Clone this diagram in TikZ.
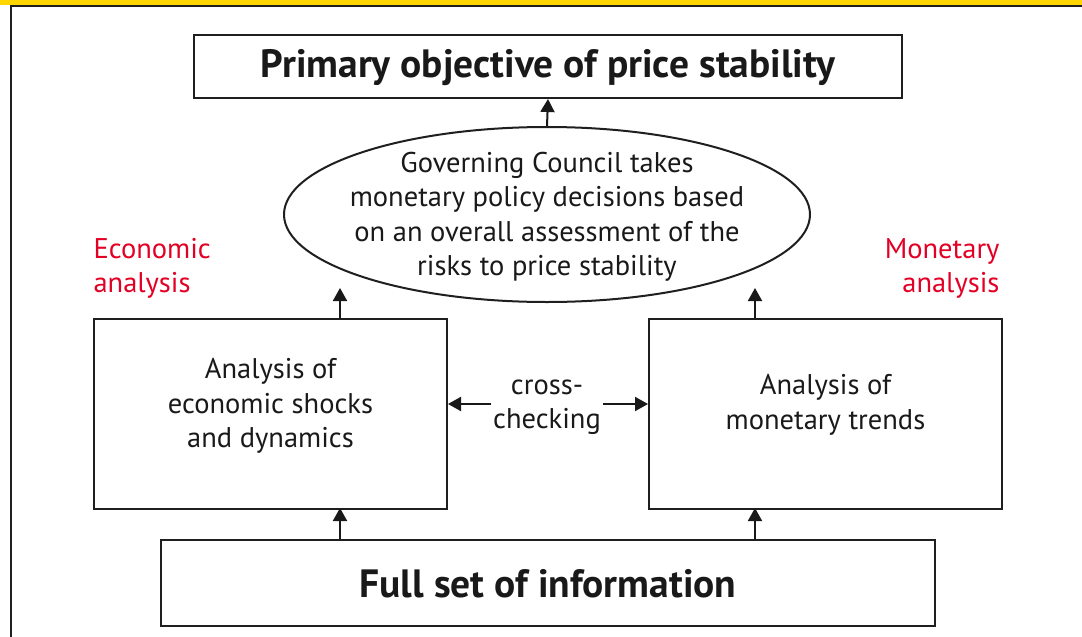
\documentclass[tikz,border=0pt]{standalone}
\usepackage{fontspec}
\setmainfont{PT Sans}
\usetikzlibrary{arrows.meta,shapes.geometric}
\definecolor{ecbyellow}{RGB}{255,214,0}
\definecolor{ecbred}{RGB}{226,0,36}
\begin{document}
\begin{tikzpicture}[x=1pt,y=-1pt,
  box/.style={draw=black!88,line width=2pt,inner sep=0pt,anchor=north west},
  arr/.style={line width=2pt,draw=black!90,-{Triangle[length=13pt,width=14pt]}},
  body/.style={font=\fontsize{28.5}{34.5}\selectfont,align=center,text=black!90},
  lab/.style={font=\fontsize{28.5}{34}\selectfont,text=ecbred},
  big/.style={font=\fontsize{39.5}{44}\selectfont\bfseries,text=black!90}]
\useasboundingbox (0,0) rectangle (1082,637);
\fill[ecbyellow] (0,0) rectangle (1082,5);
\draw[line width=2pt,black!88] (1082,5.5) -- (11,5.5) -- (11,637);
% boxes
\node[box,minimum width=708pt,minimum height=63pt] (top) at (193,34) {};
\node[big] at ([yshift=-1pt]top.center) {Primary objective of price stability};
\node[draw=black!88,line width=2pt,ellipse,minimum width=526pt,minimum height=175pt,inner sep=0pt] (ell) at (547,214.5) {};
\node[body] at (547,217) {Governing Council takes\\monetary policy decisions based\\on an overall assessment of the\\risks to price stability};
\node[box,minimum width=353pt,minimum height=190pt] (left) at (93,318) {};
\node[body] at ([yshift=8pt]left.center) {Analysis of\\economic shocks\\and dynamics};
\node[box,minimum width=353pt,minimum height=190pt] (right) at (648,318) {};
\node[body] at ([yshift=9pt]right.center) {Analysis of\\monetary trends};
\node[box,minimum width=774pt,minimum height=86pt] (bot) at (160,539) {};
\node[big] at ([yshift=-1pt]bot.center) {Full set of information};
% cross-checking
\node[body] (cc) at (547,407) {cross-\\checking};
\coordinate (ccl) at (491,404);
\coordinate (ccr) at (603,404);
\draw[arr] (ccl) -- (left.east |- ccl);
\draw[arr] (ccr) -- (right.west |- ccr);
% labels
\node[lab,anchor=west,align=left] (econ) at (90,268) {Economic\\analysis};
\node[lab,anchor=east,align=right] (mon) at (1003,268) {Monetary\\analysis};
% arrows
\draw[arr] (ell.north) -- (top.south);
\coordinate (la) at (340,318);
\coordinate (ra) at (755,318);
\draw[arr] (la) -- (340,288);
\draw[arr] (ra) -- (755,288);
\draw[arr] (340,539) -- (340,508);
\draw[arr] (755,539) -- (755,508);
\end{tikzpicture}
\end{document}
